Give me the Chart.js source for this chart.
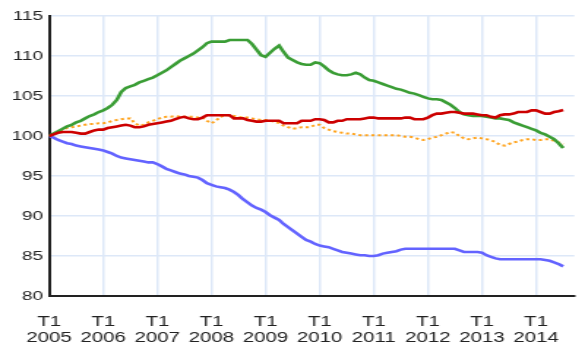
<!DOCTYPE html>
<html>
<head>
<meta charset="utf-8">
<script src="https://cdn.jsdelivr.net/npm/chart.js@4"></script>
<style>
html, body { margin: 0; padding: 0; background: #fff; overflow: hidden; }
#wrap { width: 400px; height: 345px; transform: scale(1.4625, 1); transform-origin: 0 0; }
</style>
</head>
<body>
<div id="wrap"><canvas id="indices" width="400" height="345"></canvas></div>
<script>
// monthly index values, T1 2005 = 100
const firstYear = 2005;
const yearTicks = ["2005", "2006", "2007", "2008", "2009", "2010", "2011", "2012", "2013", "2014"];

const green = [
  100.0,100.3,100.6,100.9,101.2,101.4,101.7,101.9,102.2,102.5,102.7,103.0,
  103.2,103.5,103.9,104.5,105.5,106.0,106.2,106.4,106.7,106.9,107.1,107.3,
  107.6,107.9,108.2,108.6,109.0,109.4,109.7,110.0,110.3,110.7,111.1,111.6,
  111.8,111.8,111.8,111.8,112.0,112.0,112.0,112.0,112.0,111.5,110.8,110.1,
  109.9,110.4,110.9,111.3,110.5,109.8,109.5,109.2,109.0,108.9,108.9,109.2,
  109.1,108.7,108.2,107.9,107.7,107.6,107.6,107.7,107.9,107.7,107.3,107.0,
  106.9,106.7,106.5,106.3,106.1,105.9,105.8,105.6,105.4,105.3,105.1,104.9,
  104.7,104.6,104.6,104.5,104.2,103.9,103.5,103.0,102.7,102.6,102.5,102.5,
  102.5,102.4,102.3,102.2,102.2,102.1,102.0,101.7,101.5,101.3,101.1,100.9,
  100.7,100.4,100.2,99.9,99.6,99.1,98.5
];
const red = [
  100.0,100.2,100.4,100.5,100.5,100.5,100.4,100.3,100.3,100.5,100.7,100.8,
  100.8,101.0,101.1,101.2,101.3,101.4,101.3,101.1,101.1,101.2,101.4,101.5,
  101.6,101.7,101.8,101.9,102.1,102.3,102.4,102.2,102.1,102.1,102.3,102.6,
  102.6,102.6,102.6,102.6,102.6,102.2,102.2,102.2,102.0,101.9,101.8,101.8,
  101.9,101.9,101.9,101.9,101.6,101.6,101.6,101.6,101.9,101.9,101.9,102.1,
  102.1,102.0,101.7,101.7,101.9,101.9,102.1,102.1,102.1,102.1,102.2,102.3,
  102.3,102.2,102.2,102.2,102.2,102.2,102.2,102.3,102.3,102.1,102.1,102.1,
  102.3,102.6,102.8,102.8,102.9,103.0,103.0,102.9,102.8,102.8,102.8,102.7,
  102.6,102.6,102.4,102.3,102.6,102.7,102.7,102.8,103.0,103.0,103.0,103.2,
  103.2,103.0,102.8,102.8,103.0,103.1,103.25
];
const orange = [
  100.0,100.3,100.5,100.8,101.0,101.1,101.2,101.3,101.4,101.5,101.5,101.6,
  101.6,101.7,101.9,102.0,102.1,102.2,102.2,101.6,101.3,101.4,101.7,101.9,
  102.1,102.3,102.4,102.4,102.5,102.4,102.4,102.4,102.4,102.3,102.3,101.9,
  101.6,101.9,102.4,102.6,102.6,102.5,102.4,102.3,102.3,102.2,102.1,102.0,
  102.0,101.9,101.8,101.6,101.3,101.1,100.9,101.0,101.1,101.1,101.1,101.4,
  101.4,101.0,100.8,100.6,100.5,100.4,100.3,100.3,100.2,100.1,100.1,100.1,
  100.1,100.1,100.1,100.1,100.1,100.1,100.0,99.9,99.9,99.8,99.6,99.5,
  99.6,99.8,99.9,100.1,100.3,100.5,100.4,100.0,99.7,99.6,99.7,99.8,
  99.7,99.6,99.5,99.2,98.9,98.8,99.0,99.2,99.3,99.5,99.6,99.6,
  99.5,99.5,99.6,99.6,99.4,99.2,99.0
];
const blue = [
  100.0,99.8,99.5,99.3,99.1,99.0,98.8,98.7,98.6,98.5,98.4,98.3,
  98.2,98.0,97.8,97.5,97.3,97.2,97.1,97.0,96.9,96.8,96.7,96.7,
  96.5,96.2,95.9,95.7,95.5,95.3,95.2,95.0,94.9,94.8,94.5,94.1,
  93.9,93.7,93.6,93.5,93.3,93.0,92.6,92.1,91.7,91.3,91.0,90.8,
  90.5,90.1,89.8,89.5,89.0,88.6,88.2,87.8,87.4,87.0,86.8,86.5,
  86.3,86.2,86.1,85.9,85.7,85.5,85.4,85.3,85.2,85.1,85.1,85.0,
  85.0,85.1,85.3,85.4,85.5,85.6,85.8,85.9,85.9,85.9,85.9,85.9,
  85.9,85.9,85.9,85.9,85.9,85.9,85.9,85.7,85.5,85.5,85.5,85.5,
  85.4,85.1,84.9,84.7,84.6,84.6,84.6,84.6,84.6,84.6,84.6,84.6,
  84.6,84.6,84.5,84.4,84.2,84.0,83.7
];

const toPoints = arr => arr.map((v, i) => ({ x: i, y: v }));

const line = (data, color, width, dash) => ({
  data: toPoints(data),
  borderColor: color,
  borderWidth: width,
  borderDash: dash || [],
  pointRadius: 0,
  tension: 0,
  fill: false,
});

new Chart(document.getElementById("indices"), {
  type: "line",
  data: {
    datasets: [
      line(red, "#cc0000", 2.6),
      line(green, "#3a9d35", 2.6),
      line(orange, "#ffa41f", 2, [2.2, 2.2]),
      line(blue, "#6363ff", 2.6),
    ],
  },
  options: {
    responsive: false,
    animation: false,
    layout: { padding: { top: 16, right: 0, left: 0, bottom: 0 } },
    plugins: {
      legend: { display: false },
      tooltip: { enabled: false },
    },
    scales: {
      x: {
        type: "linear",
        min: 0,
        max: 116.5,
        afterFit: s => { s.height = 49; },
        border: { color: "#222", width: 2 },
        grid: { color: "#dde8f8", lineWidth: 1.5, drawTicks: false },
        ticks: {
          stepSize: 12,
          includeBounds: false,
          maxRotation: 0,
          autoSkip: false,
          padding: 18,
          color: "#222",
          font: { family: "'Liberation Sans', Arial, sans-serif", size: 14, lineHeight: 1.15 },
          callback: v => (v % 12 === 0 ? ["T1", yearTicks[v / 12]] : null),
        },
      },
      y: {
        min: 80,
        max: 115,
        afterFit: s => { s.width = 32; },
        border: { color: "#222", width: 2 },
        grid: { color: "#dde8f8", lineWidth: 1.5, drawTicks: false },
        ticks: {
          stepSize: 5,
          padding: 4,
          color: "#222",
          font: { family: "'Liberation Sans', Arial, sans-serif", size: 13 },
        },
      },
    },
  },
});
</script>
</body>
</html>
